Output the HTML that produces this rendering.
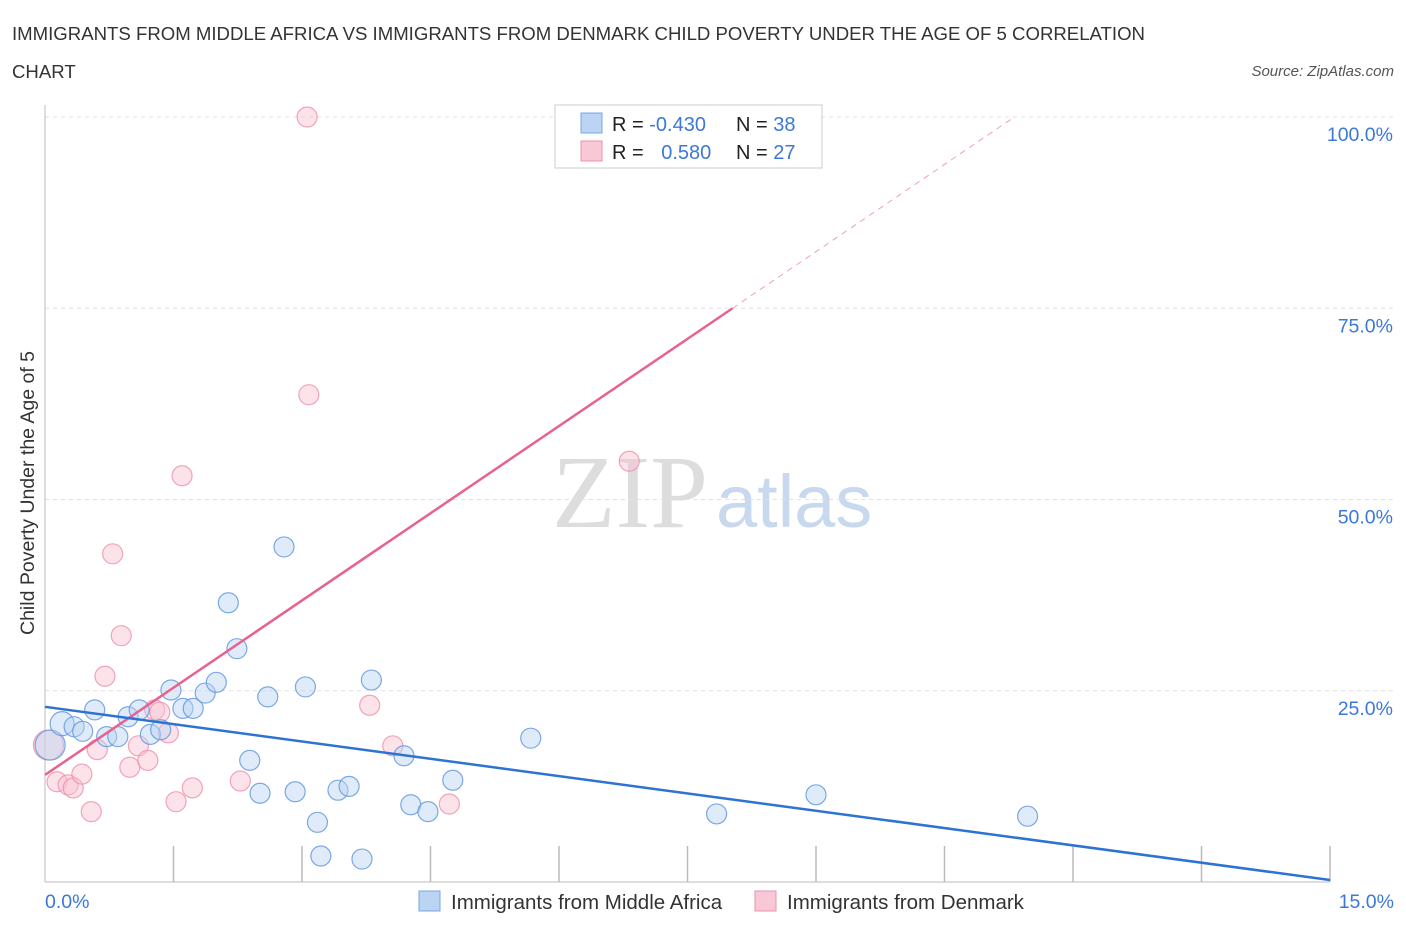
<!DOCTYPE html>
<html><head><meta charset="utf-8"><style>
body{margin:0;background:#fff;font-family:"Liberation Sans",sans-serif}
svg text{font-family:"Liberation Sans",sans-serif}
</style></head><body>
<svg id="c" width="1406" height="930" xmlns="http://www.w3.org/2000/svg">
<text x="12" y="40" font-size="18.6" fill="#333">IMMIGRANTS FROM MIDDLE AFRICA VS IMMIGRANTS FROM DENMARK CHILD POVERTY UNDER THE AGE OF 5 CORRELATION</text>
<text x="12" y="78" font-size="18.6" fill="#333">CHART</text>
<text x="1394" y="76" font-size="15" fill="#555" font-style="italic" text-anchor="end">Source: ZipAtlas.com</text>
<text x="34" y="493" font-size="19.5" fill="#333" text-anchor="middle" transform="rotate(-90 34 493)">Child Poverty Under the Age of 5</text>
<text x="552" y="527" font-size="104" fill="#ddd" style="font-family:'Liberation Serif',serif">ZIP</text>
<text x="716" y="527" font-size="74" fill="#c8d8ee">atlas</text>
<g id="grid"></g><g id="marks"></g>
<g>
<rect x="555" y="105" width="267" height="63" fill="#fff" stroke="#ccc"/>
<rect x="581" y="113" width="21" height="20" fill="#bcd4f4" stroke="#7aa6e6"/>
<rect x="581" y="141" width="21" height="20" fill="#f9c8d6" stroke="#ee8fab"/>
<text x="612" y="131" font-size="20" fill="#222">R = <tspan fill="#3b78d8">-0.430</tspan></text>
<text x="736" y="131" font-size="20" fill="#222">N = <tspan fill="#3b78d8">38</tspan></text>
<text x="612" y="159" font-size="20" fill="#222">R = <tspan fill="#3b78d8" dx="12">0.580</tspan></text>
<text x="736" y="159" font-size="20" fill="#222">N = <tspan fill="#3b78d8">27</tspan></text>
</g>
<g>
<rect x="419" y="891" width="21" height="20" fill="#bcd4f4" stroke="#7aa6e6"/>
<text x="451" y="909" font-size="20.5" fill="#333">Immigrants from Middle Africa</text>
<rect x="755" y="891" width="21" height="20" fill="#f9c8d6" stroke="#ee8fab"/>
<text x="787" y="909" font-size="20.5" fill="#333">Immigrants from Denmark</text>
</g>
</svg>
<script>
const blueX=[0.06,0.20,0.34,0.44,0.58,0.72,0.85,0.97,1.10,1.23,1.35,1.47,1.61,1.73,1.87,2.00,2.14,2.24,2.39,2.51,2.60,2.79,2.92,3.04,3.18,3.22,3.42,3.55,3.70,3.81,4.19,4.27,4.47,4.76,5.67,7.84,9.00,11.47];
const blueY=[17.9,20.7,20.3,19.7,22.5,19.0,19.0,21.6,22.5,19.3,19.9,25.1,22.7,22.7,24.7,26.1,36.5,30.5,15.9,11.6,24.2,43.8,11.8,25.5,7.8,3.4,12.0,12.5,3.0,26.4,16.5,10.1,9.2,13.3,18.8,8.9,11.4,8.6];
const pinkX=[0.04,0.14,0.27,0.33,0.43,0.54,0.61,0.70,0.79,0.89,0.99,1.09,1.20,1.28,1.34,1.44,1.53,1.60,1.72,2.28,3.06,3.08,3.79,4.06,4.72,6.82,7.16];
const pinkY=[17.9,13.1,12.7,12.3,14.1,9.2,17.3,26.9,42.9,32.2,15.0,17.8,15.9,22.5,22.2,19.5,10.5,53.1,12.3,13.2,100,63.7,23.1,17.8,10.2,55.0,100];
const yTicks=[25,50,75,100];
const yTickLabels=["25.0%","50.0%","75.0%","100.0%"];
const xEndLabels=["0.0%","15.0%"];
const blueTrend=[22.9,0.26];
const pinkTrend=[14.0,7.6];
const NS="http://www.w3.org/2000/svg";
const sx=v=>45+v/15*1285, sy=v=>882-v*7.65;
function mk(t,a,p){const e=document.createElementNS(NS,t);for(const k in a)e.setAttribute(k,a[k]);p.appendChild(e);return e;}
const g=document.getElementById('grid'),m=document.getElementById('marks');
yTicks.forEach((t,i)=>{
 const l=mk('line',{x1:45,x2:1394,y1:sy(t),y2:sy(t),stroke:'#e2e2e2','stroke-dasharray':'4,4'},g);
 
 
 const tx=mk('text',{x:1393,y:sy(t)+24,'font-size':19.5,fill:'#3b78d8','text-anchor':'end'},g);
 tx.textContent=yTickLabels[i];
 
 
});
const ax=mk('line',{x1:45,x2:45,y1:105,y2:882,stroke:'#bbb'},g);


const bx=mk('line',{x1:45,x2:1330,y1:882,y2:882,stroke:'#bbb'},g);


for(let i=1;i<=10;i++){const t=mk('line',{x1:sx(i*1.5),x2:sx(i*1.5),y1:846,y2:882,stroke:'#bbb','stroke-width':1.5},g);
 
 }
[[0,'start',45],[15,'end',1394]].forEach((d,i)=>{const t=mk('text',{x:d[2],y:908,'font-size':19.5,fill:'#3b78d8','text-anchor':d[1]},g);t.textContent=xEndLabels[i];
 
 });
function dots(X,Y,fill,stroke,name){X.forEach((x,i)=>{const r=i===0?15:(name==='blue-point'&&i===1?12:10);
 const c=mk('circle',{cx:sx(x),cy:sy(Y[i]),r:r,fill:fill,'fill-opacity':0.45,stroke:stroke,'stroke-width':1.2,'stroke-opacity':0.8},m);
 
 });}
dots(pinkX,pinkY,'#f9c0d0','#ee8fab','pink-point');
dots(blueX,blueY,'#b8d2f2','#5d94e0','blue-point');
const pEnd=(75-pinkTrend[0])/pinkTrend[1], pMax=(100-pinkTrend[0])/pinkTrend[1];
const pd=mk('line',{x1:sx(pEnd),y1:sy(75),x2:sx(pMax),y2:sy(100),stroke:'#f0a0b8','stroke-dasharray':'6,5','stroke-width':1},m);


const pl=mk('line',{x1:sx(0),y1:sy(pinkTrend[0]),x2:sx(pEnd),y2:sy(75),stroke:'#e8628e','stroke-width':2.5},m);


const bl=mk('line',{x1:sx(0),y1:sy(blueTrend[0]),x2:sx(15),y2:sy(blueTrend[1]),stroke:'#2e72d2','stroke-width':2.5},m);


</script>
</body></html>
